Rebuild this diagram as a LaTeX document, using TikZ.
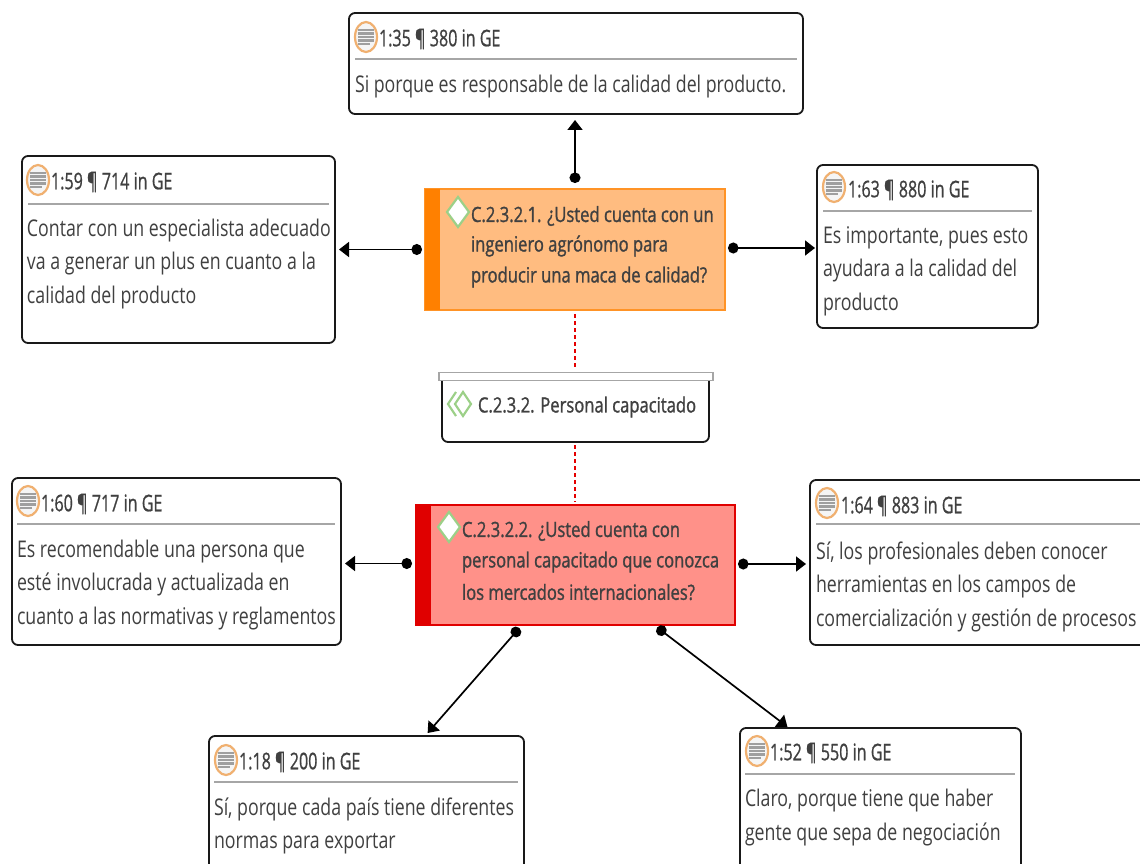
\documentclass[tikz,border=0pt]{standalone}
\usepackage{fontspec}
\setmainfont[FakeStretch=0.772]{Open Sans}
\newfontfamily\titlefont[FakeStretch=0.70,FakeBold=0.7]{Open Sans}
\newfontfamily\codefont[FakeStretch=0.79,FakeBold=1.2]{Open Sans}
\usetikzlibrary{arrows.meta,positioning}
\definecolor{ink}{HTML}{404040}
\definecolor{ruleg}{HTML}{A6A6A6}
\definecolor{oran}{HTML}{FF8000}
\definecolor{oranf}{HTML}{FFBC80}
\definecolor{redb}{HTML}{E00000}
\definecolor{redf}{HTML}{FF9189}
\definecolor{diag}{HTML}{9CD088}
\definecolor{iconr}{HTML}{F0B070}
\tikzset{
  x=1pt,y=-1pt,
  every node/.style={outer sep=0pt},
  qbox/.style={draw=black!90,line width=1.8pt,rounded corners=6pt,fill=white,anchor=north west,inner sep=0pt},
  qtitle/.style={anchor=west,inner sep=0pt,yshift=-1pt,text=ink,font=\titlefont\fontsize{23}{26}\selectfont},
  qtext/.style={anchor=west,inner sep=0pt,yshift=-2.5pt,text=ink,font=\fontsize{23}{26}\selectfont},
  ctext/.style={anchor=west,inner sep=0pt,yshift=-1pt,text=ink,font=\codefont\fontsize{21}{25}\selectfont},
  qrule/.style={draw=ruleg,line width=1.6pt},
  link/.style={draw=black,line width=1.7pt,{Circle[length=10.5pt,width=11pt]}-{Triangle[length=10pt,width=15pt]}},
  dashlink/.style={draw=red!90!black,line width=1.3pt,dash pattern=on 4pt off 3pt},
  dia/.style={draw=diag,line width=2.2pt,fill=white},
}
\newcommand{\docicon}[2]{%
  \fill[gray!8,draw=iconr,line width=2.2pt] (#1,#2) circle[x radius=11pt,y radius=15pt];
  \foreach \dy/\w in {-7/8,-3.5/8,0/8,3.5/8,7/6}
    \draw[gray!75,line width=2.2pt] (#1-8,#2+\dy) -- (#1-8+2*\w,#2+\dy);
}
\newcommand{\diam}[2]{\draw[dia] (#1,#2-15) -- (#1+11,#2) -- (#1,#2+15) -- (#1-11,#2) -- cycle;}
\begin{document}
\begin{tikzpicture}
\useasboundingbox (0,0) rectangle (1140,864);
\clip (0,0) rectangle (1140,864);

% quotation boxes
\node[qbox,minimum width=454pt,minimum height=101pt] (q35) at (349,13) {};
\draw[qrule] (355,59) -- (797,59);
\docicon{366}{37}
\node[qtitle] (q35t) at (379,38) {1:35 ¶ 380 in GE};
\node[qtext] (q35a) at (355,84) {Si porque es responsable de la calidad del producto.};

\node[qbox,minimum width=313pt,minimum height=187pt] (q59) at (22,156) {};
\draw[qrule] (28,204) -- (329,204);
\docicon{38}{180}
\node[qtitle] (q59t) at (51,181) {1:59 ¶ 714 in GE};
\node[qtext] (q59a) at (27,228) {Contar con un especialista adecuado};
\node[qtext] (q59b) at (27,261) {va a generar un plus en cuanto a la};
\node[qtext] (q59c) at (27,295) {calidad del producto};

\node[qbox,minimum width=221pt,minimum height=163pt] (q63) at (817,165) {};
\draw[qrule] (823,211) -- (1032,211);
\docicon{834}{187}
\node[qtitle] (q63t) at (848,189) {1:63 ¶ 880 in GE};
\node[qtext] (q63a) at (823,235) {Es importante, pues esto};
\node[qtext] (q63b) at (823,268) {ayudara a la calidad del};
\node[qtext] (q63c) at (823,302) {producto};

\node[qbox,minimum width=329pt,minimum height=167pt] (q60) at (12,478) {};
\draw[qrule] (17,524) -- (335,524);
\docicon{28}{501}
\node[qtitle] (q60t) at (41,503) {1:60 ¶ 717 in GE};
\node[qtext] (q60a) at (17,549) {Es recomendable una persona que};
\node[qtext] (q60b) at (17,582) {esté involucrada y actualizada en};
\node[qtext] (q60c) at (17,616) {cuanto a las normativas y reglamentos};

\node[qbox,minimum width=340pt,minimum height=165pt] (q64) at (810,480) {};
\draw[qrule] (816,524) -- (1140,524);
\docicon{827}{503}
\node[qtitle] (q64t) at (841,505) {1:64 ¶ 883 in GE};
\node[qtext] (q64a) at (816,551) {Sí, los profesionales deben conocer};
\node[qtext] (q64b) at (816,584) {herramientas en los campos de};
\node[qtext] (q64c) at (816,618) {comercialización y gestión de procesos};

\node[qbox,minimum width=315pt,minimum height=150pt] (q18) at (209,736) {};
\draw[qrule] (214,782) -- (518,782);
\docicon{226}{760}
\node[qtitle] (q18t) at (239,761) {1:18 ¶ 200 in GE};
\node[qtext] (q18a) at (214,807) {Sí, porque cada país tiene diferentes};
\node[qtext] (q18b) at (214,841) {normas para exportar};

\node[qbox,minimum width=281pt,minimum height=160pt] (q52) at (740,728) {};
\draw[qrule] (745,774) -- (1015,774);
\docicon{757}{751}
\node[qtitle] (q52t) at (770,752) {1:52 ¶ 550 in GE};
\node[qtext] (q52a) at (745,798) {Claro, porque tiene que haber};
\node[qtext] (q52b) at (745,832) {gente que sepa de negociación};

% code: orange
\node[draw=oran!85!white,line width=1.8pt,fill=oranf,anchor=north west,inner sep=0pt,minimum width=300pt,minimum height=121pt] (c1) at (425,189) {};
\fill[oran] (425,189) rectangle (440,310);
\diam{458}{212}
\node[ctext] (c1a) at (471,215) {C.2.3.2.1. ¿Usted cuenta con un};
\node[ctext] (c1b) at (471,245) {ingeniero agrónomo para};
\node[ctext] (c1c) at (471,276) {producir una maca de calidad?};

% group
\node[draw=black!90,line width=1.8pt,rounded corners=6pt,fill=white,anchor=north west,inner sep=0pt,minimum width=267pt,minimum height=69pt] (g) at (442,373) {};
\node[draw=ruleg,line width=1.8pt,fill=white,anchor=north west,inner sep=0pt,minimum width=274pt,minimum height=8pt] (gbar) at (439,372.5) {};
\draw[dia,fill=none] (456,392) -- (448,404) -- (456,416);
\draw[dia] (463,392) -- (471,404) -- (463,416) -- (455,404) -- cycle;
\node[ctext] (gt) at (478,406) {C.2.3.2. Personal capacitado};

% code: red
\node[draw=redb,line width=1.8pt,fill=redf,anchor=north west,inner sep=0pt,minimum width=319pt,minimum height=120pt] (c2) at (416,505) {};
\fill[redb] (416,505) rectangle (431,625);
\diam{449}{527}
\node[ctext] (c2a) at (462,530) {C.2.3.2.2. ¿Usted cuenta con};
\node[ctext] (c2b) at (462,561) {personal capacitado que conozca};
\node[ctext] (c2c) at (462,591) {los mercados internacionales?};

% connectors
\coordinate (c1n) at (575,189);
\coordinate (c1e) at (725,248);
\coordinate (c2w) at (416,563.5);
\coordinate (c2e) at (735,564);
\coordinate (s18) at (522,625);
\coordinate (e18) at (425,736);
\coordinate (s52) at (654,625);
\coordinate (e52) at (789,728);
\draw[link,shorten <=6pt,shorten >=6pt] (c1n) -- (c1n |- q35.south);
\draw[link,shorten <=3pt,shorten >=4pt] (c1.west) -- (c1.west -| q59.east);
\draw[link,shorten <=3pt,shorten >=2pt] (c1e) -- (c1e -| q63.west);
\draw[link,shorten <=4pt,shorten >=4pt] (c2w) -- (c2w -| q60.east);
\draw[link,shorten <=3pt,shorten >=4pt] (c2e) -- (c2e -| q64.west);
\draw[link,shorten <=4pt,shorten >=4pt] (s18) -- (e18);
\draw[link,shorten <=4pt,shorten >=2pt] (s52) -- (e52);
\draw[dashlink,shorten <=4pt,shorten >=4pt] (c1n |- c1.south) -- (c1n |- g.north);
\draw[dashlink,shorten <=3pt,shorten >=3pt] (c1n |- g.south) -- (c1n |- c2.north);
\end{tikzpicture}
\end{document}
